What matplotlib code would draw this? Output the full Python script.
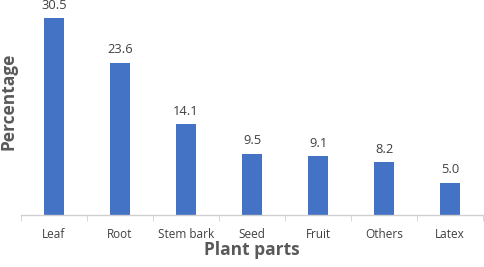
import numpy as np
import matplotlib.pyplot as plt

parts = ['Leaf', 'Root', 'Stem bark', 'Seed', 'Fruit', 'Others', 'Latex']
percent = [30.5, 23.6, 14.1, 9.5, 9.1, 8.2, 5.0]

plt.rcParams['font.family'] = ['Open Sans', 'DejaVu Sans']

fig = plt.figure(figsize=(4.84, 2.67), dpi=100)
ax = fig.add_axes([21 / 484, 1 - 215 / 267, 462 / 484, 215 / 267])

x = np.arange(len(parts))
ax.bar(x, percent, width=0.3, color='#4472C4', zorder=2)

for xi, v in zip(x, percent):
    ax.text(xi, v + 1.0, f"{v:.1f}", ha='center', va='bottom',
            fontsize=9.3, color='#404040', clip_on=False)

ax.set_xlim(-0.5, len(parts) - 0.5)
ax.set_ylim(0, 33.3)

for s in ['top', 'right', 'left']:
    ax.spines[s].set_visible(False)
ax.spines['bottom'].set_color('#d0d0d0')
ax.spines['bottom'].set_linewidth(1.0)

ax.set_yticks([])
ax.set_xticks(x)
ax.set_xticklabels(parts, fontsize=8.5, color='#404040')
ax.tick_params(axis='x', which='major', length=0, pad=9)
ax.set_xticks(np.arange(-0.5, len(parts)), minor=True)
ax.tick_params(axis='x', which='minor', length=4, color='#d0d0d0')

fig.text(252 / 484, 1 - 250 / 267, 'Plant parts', ha='center', va='center',
         fontsize=12.5, fontweight='bold', color='#595959')
fig.text(9 / 484, 1 - 101 / 267, 'Percentage', ha='center', va='center',
         rotation=90, fontsize=12.5, fontweight='bold', color='#595959')

fig.savefig('out.png', dpi=100)
